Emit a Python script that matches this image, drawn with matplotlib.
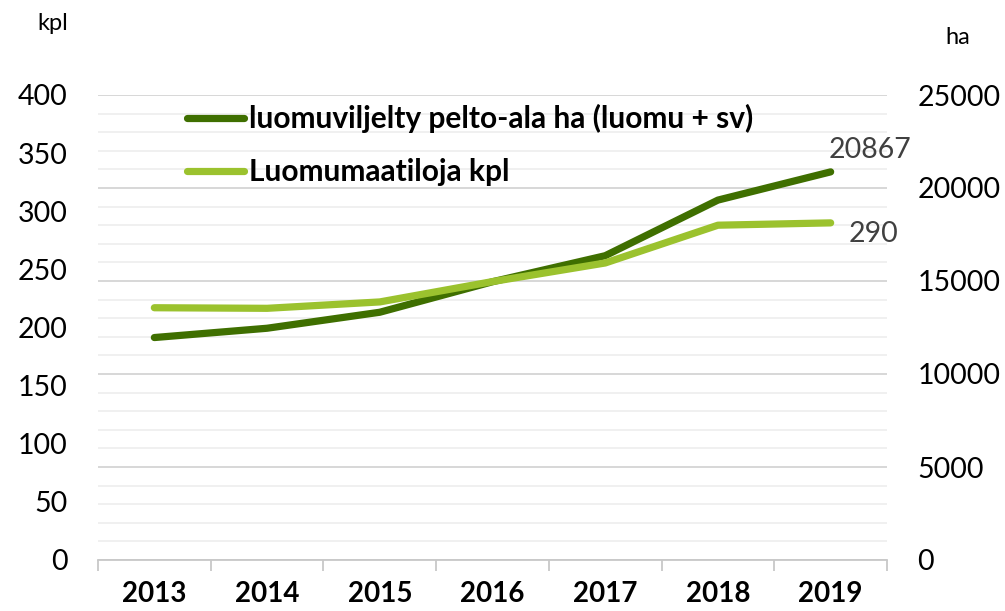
import matplotlib
matplotlib.use("Agg")
import matplotlib.pyplot as plt
from matplotlib.ticker import MultipleLocator, FixedLocator
from matplotlib.lines import Line2D

years = ["2013", "2014", "2015", "2016", "2017", "2018", "2019"]
area_ha = [11960, 12460, 13320, 14960, 16360, 19350, 20867]
farms_kpl = [217, 216.5, 222, 239.5, 255.5, 288, 290]
label_area = "luomuviljelty pelto-ala ha (luomu + sv)"
label_farms = "Luomumaatiloja kpl"

dark = "#3f6f00"
light = "#9bc22e"
txt = "#000000"

plt.rcParams['font.family'] = ['Lato', 'DejaVu Sans']

fig = plt.figure(figsize=(10.05, 6.11), dpi=100)
ax2 = fig.add_axes([98/1005, 51/611, (887-98)/1005, (560-95)/611])
ax = ax2.twinx()
ax.set_zorder(ax2.get_zorder() + 1)
ax.patch.set_visible(False)

x = list(range(len(years)))

ax2.set_ylim(0, 25000)
ax.set_ylim(0, 400)
ax2.set_xlim(-0.5, len(years) - 0.5)

ax2.yaxis.set_major_locator(MultipleLocator(5000))
ax2.yaxis.set_minor_locator(MultipleLocator(1000))
ax2.grid(which='minor', axis='y', color='#efefef', linewidth=1.3)
ax2.grid(which='major', axis='y', color='#d4d4d4', linewidth=1.3)
ax2.set_axisbelow(True)

ax2.plot(x, area_ha, color=dark, linewidth=5.2, solid_capstyle='round',
         solid_joinstyle='round', label=label_area, zorder=3)
ax.plot(x, farms_kpl, color=light, linewidth=5.2, solid_capstyle='round',
        solid_joinstyle='round', label=label_farms, zorder=3)

ax.yaxis.set_major_locator(MultipleLocator(50))

ax2.yaxis.tick_right()
ax.yaxis.tick_left()
ax2.tick_params(axis='y', which='both', length=0, labelsize=20.5, pad=22, labelcolor=txt)
ax.tick_params(axis='y', which='both', length=0, labelsize=20.5, pad=22, labelcolor=txt)

for a in (ax, ax2):
    for s in a.spines.values():
        s.set_visible(False)
ax2.spines['bottom'].set_visible(True)
ax2.spines['bottom'].set_color('#c8c8c8')
ax2.spines['bottom'].set_linewidth(1.3)

ax2.set_xticks(x)
ax2.set_xticklabels(years, fontsize=20, fontweight='bold')
ax2.xaxis.set_minor_locator(FixedLocator([i - 0.5 for i in range(len(years) + 1)]))
ax2.tick_params(axis='x', which='major', length=0, pad=15)
ax2.tick_params(axis='x', which='minor', length=8, color='#c8c8c8', width=1.3, direction='out')
ax.tick_params(axis='x', which='both', length=0, labelbottom=False)

ax2.annotate(f"{area_ha[-1]}", xy=(x[-1], area_ha[-1]), xytext=(28, 16),
             textcoords='offset points', ha='center', va='center',
             fontsize=20.5, color='#404040')
ax.annotate(f"{farms_kpl[-1]:.0f}", xy=(x[-1], farms_kpl[-1]), xytext=(31, -8),
            textcoords='offset points', ha='center', va='center',
            fontsize=20.5, color='#404040')

fig.text(53/1005, 1 - 24/611, "kpl", fontsize=17, ha='center', va='center')
fig.text(958/1005, 1 - 37/611, "ha", fontsize=17, ha='center', va='center')

h1 = Line2D([], [], color=dark, linewidth=5.2, solid_capstyle='round')
h2 = Line2D([], [], color=light, linewidth=5.2, solid_capstyle='round')
leg = ax.legend([h1, h2], [label_area, label_farms], loc='upper left',
                bbox_to_anchor=(187/1005, 1 - 104/611), bbox_transform=fig.transFigure,
                frameon=False, prop={'weight': 'bold', 'size': 21.5},
                handlelength=1.9, handletextpad=0.17, labelspacing=0.84,
                borderpad=0, borderaxespad=0)

fig.savefig("out.png", dpi=100)
